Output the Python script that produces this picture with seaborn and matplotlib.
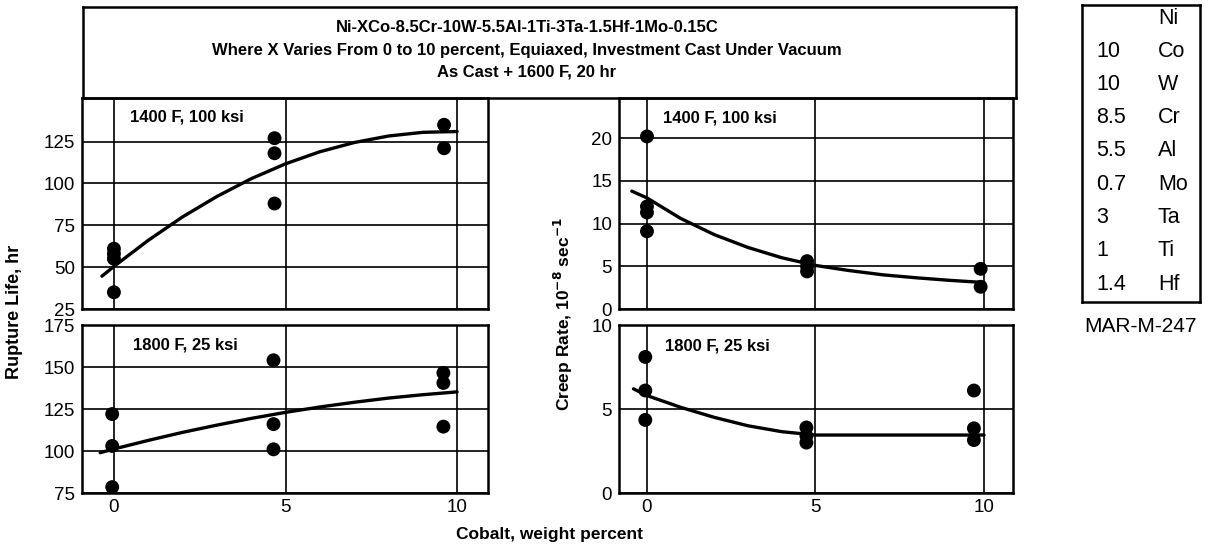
import numpy as np
import pandas as pd
import matplotlib
matplotlib.use("Agg")
import matplotlib.pyplot as plt
import seaborn as sns

# ---------------- data ----------------
# Rupture life, 1400 F / 100 ksi
rl1400_x = [0, 0, 0, 0, 4.68, 4.68, 4.68, 9.62, 9.62]
rl1400_y = [61, 58, 55, 35, 127, 118, 88, 135, 121]
rl1400_cx = [-0.35, 0, 1, 2, 3, 4, 5, 6, 7, 8, 9, 10]
rl1400_cy = [44.6, 50.4, 66.0, 80.0, 92.2, 102.8, 111.7, 118.9, 124.4, 128.3, 130.5, 131.0]

# Rupture life, 1800 F / 25 ksi
rl1800_x = [-0.05, -0.05, -0.05, 4.65, 4.65, 4.65, 9.6, 9.6, 9.6]
rl1800_y = [122, 103, 78.5, 154, 116, 101, 146.5, 140.5, 114.5]
rl1800_cx = [-0.4, 0, 1, 2, 3, 4, 5, 6, 7, 8, 9, 10]
rl1800_cy = [99.0, 101.2, 106.3, 111.1, 115.4, 119.4, 123.0, 126.2, 129.0, 131.5, 133.5, 135.2]

# Creep rate, 1400 F / 100 ksi
cr1400_x = [0, 0, 0, 0, 4.75, 4.75, 4.75, 9.9, 9.9]
cr1400_y = [20.2, 12.0, 11.3, 9.1, 5.6, 5.0, 4.4, 4.7, 2.6]
cr1400_cx = [-0.45, 0, 1, 2, 3, 4, 5, 6, 7, 8, 9, 10]
cr1400_cy = [13.8, 13.0, 10.6, 8.7, 7.2, 6.0, 5.1, 4.5, 4.0, 3.65, 3.35, 3.1]

# Creep rate, 1800 F / 25 ksi
cr1800_x = [-0.05, -0.05, -0.05, 4.73, 4.73, 4.73, 9.7, 9.7, 9.7]
cr1800_y = [8.1, 6.1, 4.35, 3.9, 3.4, 3.0, 6.1, 3.85, 3.15]
cr1800_cx = [-0.4, 0, 1, 2, 3, 4, 5, 6, 7, 8, 9, 10]
cr1800_cy = [6.2, 5.8, 5.1, 4.5, 4.0, 3.65, 3.45, 3.45, 3.45, 3.45, 3.45, 3.45]

x_ticks = [0, 5, 10]
rl1400_ticks = [25, 50, 75, 100, 125]
rl1800_ticks = [75, 100, 125, 150, 175]
cr1400_ticks = [0, 5, 10, 15, 20]
cr1800_ticks = [0, 5, 10]

comp_amount = ["", "10", "10", "8.5", "5.5", "0.7", "3", "1", "1.4"]
comp_element = ["Ni", "Co", "W", "Cr", "Al", "Mo", "Ta", "Ti", "Hf"]

header_lines = [
    "Ni-XCo-8.5Cr-10W-5.5Al-1Ti-3Ta-1.5Hf-1Mo-0.15C",
    "Where X Varies From 0 to 10 percent, Equiaxed, Investment Cast Under Vacuum",
    "As Cast + 1600 F, 20 hr",
]

# ---------------- style ----------------
sns.set_theme(style="white")
plt.rcParams["font.family"] = ["Liberation Sans", "DejaVu Sans"]
for key in ["text.color", "axes.labelcolor", "xtick.color", "ytick.color", "axes.edgecolor"]:
    plt.rcParams[key] = "black"
plt.rcParams["axes.linewidth"] = 1.6

W, H = 1218, 547
fig = plt.figure(figsize=(W / 100, H / 100), dpi=100)


def fbox(x0, y0, x1, y1):
    """pixel box (top-left origin) -> figure fraction rect"""
    return [x0 / W, 1 - y1 / H, (x1 - x0) / W, (y1 - y0) / H]


ax_tl = fig.add_axes(fbox(82, 98, 488, 309))
ax_bl = fig.add_axes(fbox(82, 325, 488, 493))
ax_tr = fig.add_axes(fbox(619, 98, 1013, 309))
ax_br = fig.add_axes(fbox(619, 325, 1013, 493))

panels = [
    (ax_tl, rl1400_x, rl1400_y, rl1400_cx, rl1400_cy, (25, 151), rl1400_ticks, "1400 F, 100 ksi", (0.118, 0.91), False, (-0.93, 10.9)),
    (ax_bl, rl1800_x, rl1800_y, rl1800_cx, rl1800_cy, (75, 175), rl1800_ticks, "1800 F, 25 ksi", (0.126, 0.88), True, (-0.93, 10.9)),
    (ax_tr, cr1400_x, cr1400_y, cr1400_cx, cr1400_cy, (0, 24.7), cr1400_ticks, "1400 F, 100 ksi", (0.112, 0.905), False, (-0.83, 10.86)),
    (ax_br, cr1800_x, cr1800_y, cr1800_cx, cr1800_cy, (0, 10), cr1800_ticks, "1800 F, 25 ksi", (0.117, 0.875), True, (-0.83, 10.86)),
]

for ax, px, py, cx, cy, ylim, yt, label, lpos, showx, xlim in panels:
    sns.lineplot(x=cx, y=cy, ax=ax, color="black", lw=2.4, sort=True, zorder=3)
    sns.scatterplot(x=px, y=py, ax=ax, color="black", s=100, edgecolor="none", zorder=4)
    ax.set_xlim(*xlim)
    ax.set_ylim(*ylim)
    ax.set_xticks(x_ticks)
    ax.set_yticks(yt)
    ax.grid(True, color="black", lw=1.2)
    ax.set_axisbelow(True)
    ax.tick_params(axis="both", length=0, labelsize=13.5, colors="black")
    ax.tick_params(axis="y", pad=5)
    ax.tick_params(axis="x", pad=4)
    if not showx:
        ax.set_xticklabels([])
    for s in ax.spines.values():
        s.set_linewidth(1.8)
        s.set_color("black")
    ax.set_xlabel("")
    ax.set_ylabel("")
    ax.text(lpos[0], lpos[1], label, transform=ax.transAxes, ha="left", va="center",
            fontsize=12, fontweight="bold", color="black")

# header box
ax_h = fig.add_axes(fbox(83, 7, 1016, 98))
ax_h.set_xticks([])
ax_h.set_yticks([])
for s in ax_h.spines.values():
    s.set_linewidth(1.8)
    s.set_color("black")
ax_h.set_facecolor("none")
hx = (527 - 83) / (1016 - 83)
for line, yf in zip(header_lines, [0.77, 0.527, 0.286]):
    ax_h.text(hx, yf, line, transform=ax_h.transAxes, ha="center", va="center",
              fontsize=12, fontweight="bold", color="black")

# axis labels
fig.text(15 / W, 1 - 312 / H, "Rupture Life, hr", rotation=90, ha="center", va="center",
         fontsize=13, fontweight="bold", color="black")
fig.text(563 / W, 1 - 314 / H, r"Creep Rate, 10$^{\mathbf{-8}}$ sec$^{\mathbf{-1}}$", rotation=90,
         ha="center", va="center", fontsize=12.5, fontweight="bold", color="black")
fig.text(550 / W, 1 - 535 / H, "Cobalt, weight percent", ha="center", va="center",
         fontsize=12.5, fontweight="bold", color="black")

# composition box
ax_c = fig.add_axes(fbox(1082, 5, 1200, 302))
ax_c.set_xticks([])
ax_c.set_yticks([])
for s in ax_c.spines.values():
    s.set_linewidth(1.8)
    s.set_color("black")
ax_c.set_facecolor("none")
ax_c.set_xlim(1082, 1200)
ax_c.set_ylim(302, 5)
row_y = [18 + i * 33.25 for i in range(len(comp_element))]
for amt, el, yy in zip(comp_amount, comp_element, row_y):
    ax_c.text(1096, yy, amt, ha="left", va="center", fontsize=15.5, color="black")
    ax_c.text(1158, yy, el, ha="left", va="center", fontsize=15.5, color="black")
fig.text(1141 / W, 1 - 327 / H, "MAR-M-247", ha="center", va="center", fontsize=15, color="black")

fig.savefig("out.png", dpi=100, facecolor="white")
